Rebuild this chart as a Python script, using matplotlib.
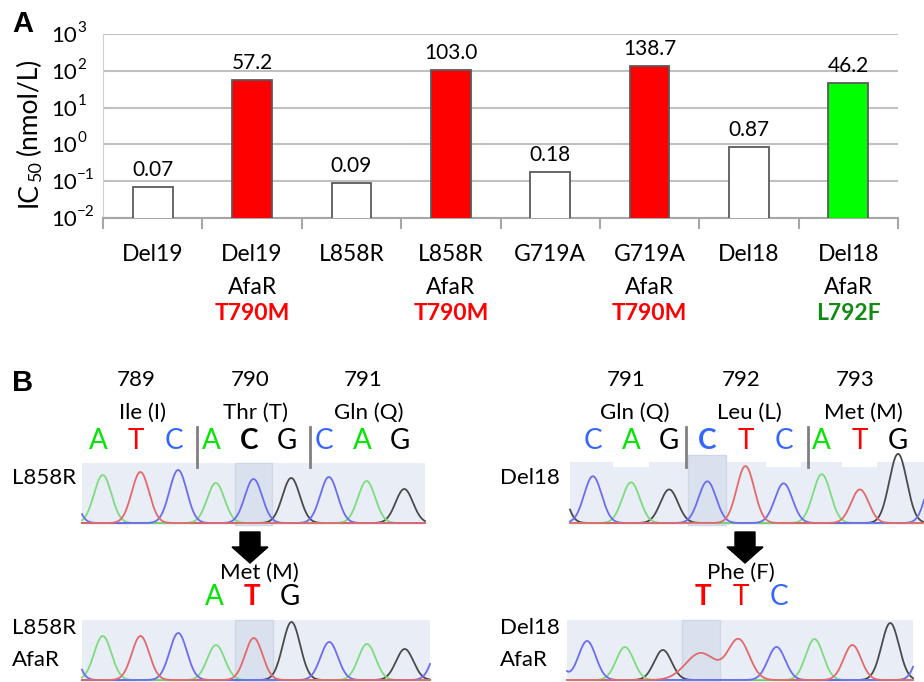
import numpy as np
import matplotlib
matplotlib.use("Agg")
import matplotlib.pyplot as plt
from matplotlib import transforms
from matplotlib.patches import Polygon
from matplotlib.ticker import NullLocator

plt.rcParams["font.family"] = ["Lato", "DejaVu Sans"]

# ---- panel A data
cell_lines = ["Del19", "Del19", "L858R", "L858R", "G719A", "G719A", "Del18", "Del18"]
resistant = ["", "AfaR", "", "AfaR", "", "AfaR", "", "AfaR"]
mutations = ["", "T790M", "", "T790M", "", "T790M", "", "L792F"]
ic50 = [0.07, 57.2, 0.09, 103.0, 0.18, 138.7, 0.87, 46.2]
ic50_labels = ["0.07", "57.2", "0.09", "103.0", "0.18", "138.7", "0.87", "46.2"]
bar_colors = ["white", "#ff0000", "white", "#ff0000", "white", "#ff0000", "white", "#00ff00"]
mutation_colors = ["black", "#ff0000", "black", "#ff0000", "black", "#ff0000", "black", "#138a13"]
decades = [-2, -1, 0, 1, 2, 3]

# ---- panel B data (trace lists start one base before the labelled codons)
codons_left = ["789", "790", "791"]
aa_left = ["Ile (I)", "Thr (T)", "Gln (Q)"]
seq_l858r = "ATCACGCAG"
trace_l858r = "CATCACGCAG"
heights_l858r = [60, 48, 51, 53, 40, 44, 45, 46, 42, 34]
aa_l858r_afar = "Met (M)"
codon_l858r_afar = "ATG"
trace_l858r_afar = "CATCATGCAGC"
heights_l858r_afar = [70, 44, 44, 47, 35, 42, 58, 38, 36, 31, 45]

codons_right = ["791", "792", "793"]
aa_right = ["Gln (Q)", "Leu (L)", "Met (M)"]
seq_del18 = "CAGCTCATG"
trace_del18 = "GCAGCTCATGC"
heights_del18 = [60, 46, 40, 33, 41, 56, 39, 48, 33, 68, 60]
aa_del18_afar = "Phe (F)"
codon_del18_afar = "TTC"
trace_del18_afar = "CCAGTTCATGC"
heights_del18_afar = [50, 39, 33, 30, 27, 40, 33, 41, 35, 57, 60]
widths_del18_afar = [0.23, 0.23, 0.23, 0.23, 0.4, 0.28, 0.23, 0.23, 0.23, 0.23, 0.23]

W, H = 924, 682
fig = plt.figure(figsize=(W / 100, H / 100), dpi=100)


def rect(x0, y0, x1, y1):
    return [x0 / W, 1 - y1 / H, (x1 - x0) / W, (y1 - y0) / H]


def fy(y):
    return 1 - y / H


# ================= panel A
ax = fig.add_axes(rect(103, 34, 898, 218))
x = np.arange(len(ic50))
bars = ax.bar(x, ic50, width=0.4, color=bar_colors, edgecolor="#5a5a5a",
              linewidth=1.3, zorder=3)
ax.set_yscale("log")
ax.set_ylim(1e-2, 1e3)
ax.set_xlim(-0.5, len(ic50) - 0.5)
ax.yaxis.set_minor_locator(NullLocator())
ax.set_yticks([10.0 ** k for k in decades])
ax.set_yticklabels([])
ax.grid(axis="y", color="#c0c0c0", lw=1.5, zorder=0)
ax.bar_label(bars, labels=ic50_labels, padding=5, fontsize=15)
ax.set_xticks(x)
ax.set_xticklabels([])
ax.set_xticks(np.arange(-0.5, len(ic50), 1), minor=True)
ax.tick_params(axis="x", which="major", length=0)
ax.tick_params(axis="x", which="minor", length=8, width=1.5, color="#a6a6a6")
ax.tick_params(axis="y", length=0)
for s in ["top", "right"]:
    ax.spines[s].set_visible(False)
ax.spines["left"].set_color("#d0d0d0")
ax.spines["bottom"].set_color("#a6a6a6")
ax.spines["bottom"].set_linewidth(1.5)

# y tick labels written as 10 with a raised exponent
for k in decades:
    ax.annotate("10", xy=(0, 10.0 ** k), xycoords=("axes fraction", "data"),
                xytext=(-18.5, -1.5), textcoords="offset points", ha="right",
                va="center", fontsize=16, annotation_clip=False)
    ax.annotate(str(k).replace("-", "\u2212"), xy=(0, 10.0 ** k),
                xycoords=("axes fraction", "data"), xytext=(-18.5, 4.5),
                textcoords="offset points", ha="left", va="center",
                fontsize=11, annotation_clip=False)

for i in range(len(ic50)):
    ax.annotate(cell_lines[i], xy=(i, 0), xycoords=("data", "axes fraction"),
                xytext=(0, -26.5), textcoords="offset points", ha="center",
                va="center", fontsize=16.5)
    if resistant[i]:
        ax.annotate(resistant[i], xy=(i, 0), xycoords=("data", "axes fraction"),
                    xytext=(0, -50), textcoords="offset points", ha="center",
                    va="center", fontsize=16.5)
    if mutations[i]:
        ax.annotate(mutations[i], xy=(i, 0), xycoords=("data", "axes fraction"),
                    xytext=(0, -68.5), textcoords="offset points", ha="center",
                    va="center", fontsize=16.5, fontweight="bold",
                    color=mutation_colors[i])

# y axis title: IC + subscript 50 + (nmol/L), rotated
t_ic = fig.text(29 / W, fy(207), "IC", rotation=90, ha="center", va="bottom",
                fontsize=19)
t_sub = ax.annotate("50", xy=(1, 1), xycoords=t_ic, xytext=(2, 0.5),
                    textcoords="offset points", rotation=90, ha="right",
                    va="bottom", fontsize=13, annotation_clip=False)
ax.annotate("(nmol/L)", xy=(0.5, 1), xycoords=(t_ic, t_sub), xytext=(0, 4),
            textcoords="offset points", rotation=90, ha="center", va="bottom",
            fontsize=19, annotation_clip=False)

fig.text(12 / W, fy(24), "A", fontsize=21, fontweight="bold",
         family="Liberation Sans", va="center")
fig.text(12 / W, fy(383), "B", fontsize=21, fontweight="bold",
         family="Liberation Sans", va="center")

# ================= panel B
BG = "#e9edf6"
HL = "#d9e0ee"
SIG = 0.23
TRACE = {"A": "#7ddc7d", "C": "#6c6cee", "G": "#4a4a4a", "T": "#e26a6a"}
LETTER = {"A": "#00e600", "C": "#3366ff", "G": "black", "T": "#ff0000"}


def chromatogram(box, trace, heights, xlim, highlight, hl_top=1.0, widths=None):
    cax = fig.add_axes(rect(*box))
    cax.set_facecolor(BG)
    cax.set_xlim(xlim)
    cax.set_ylim(-2, 60)
    for s in cax.spines.values():
        s.set_visible(False)
    cax.set_xticks([])
    cax.set_yticks([])
    cax.axvspan(highlight - 0.5, highlight + 0.5, ymin=0, ymax=hl_top,
                facecolor=HL, edgecolor="#cfd7e7", lw=1, clip_on=False, zorder=1)
    if widths is None:
        widths = [SIG] * len(trace)
    xs = np.linspace(xlim[0], xlim[1], 900)
    pos = np.arange(len(trace)) - 1
    for base in "GACT":
        y = np.zeros_like(xs)
        for p, b, h, w in zip(pos, trace, heights, widths):
            if b == base:
                y += h * np.exp(-(xs - p) ** 2 / (2 * w ** 2))
        cax.plot(xs, y, color=TRACE[base], lw=1.3, clip_on=False, zorder=3)
    return cax


def letters(cax, y, seq, start, bold, dx=0.0, bold_color=None):
    tr = transforms.blended_transform_factory(cax.transData, fig.transFigure)
    for k, b in enumerate(seq):
        is_bold = start + k == bold
        col = bold_color if (is_bold and bold_color) else LETTER[b]
        fig.text(start + k + dx, fy(y), b, transform=tr, ha="center",
                 va="center", fontsize=20, color=col,
                 fontweight="bold" if is_bold else "normal")


def header(cax, y, items, centers, dx=0.0, size=16):
    tr = transforms.blended_transform_factory(cax.transData, fig.transFigure)
    for c, s in zip(centers, items):
        fig.text(c + dx, fy(y), s, transform=tr, ha="center", va="center",
                 fontsize=size)


def separators(cax, idx, y0, y1):
    tr = transforms.blended_transform_factory(cax.transData, fig.transFigure)
    for i in idx:
        cax.plot([i, i], [fy(y0), fy(y1)], transform=tr, color="#808080",
                 lw=2, clip_on=False)


# left: L858R
ul = chromatogram((82, 463, 425, 525), trace_l858r, heights_l858r,
                  (-0.55, 8.55), 4)
header(ul, 380, codons_left, [1, 4, 7], dx=-0.1)
header(ul, 413, aa_left, [1, 4, 7], dx=0.05)
letters(ul, 441, seq_l858r, 0, 4, dx=-0.12, bold_color="black")
separators(ul, [2.5, 5.5], 427, 467)

ll = chromatogram((82, 620, 430, 682), trace_l858r_afar, heights_l858r_afar,
                  (-0.55, 8.67), 4)
header(ll, 573, [aa_l858r_afar], [4.15])
letters(ll, 597, codon_l858r_afar, 3, 4, dx=-0.05)

# right: Del18
ur = chromatogram((570, 462, 924, 525), trace_del18, heights_del18,
                  (-0.6, 8.68), 3, hl_top=1.11)
for i in [1, 5, 7]:
    ur.axvspan(i - 0.46, i + 0.46, ymin=0.92, ymax=1.0, color="white", lw=0,
               zorder=1.5)
header(ur, 380, codons_right, [1, 4, 7], dx=-0.12)
header(ur, 413, aa_right, [1, 4, 7], dx=0.1)
letters(ur, 441, seq_del18, 0, 3)
separators(ur, [2.45, 5.65], 427, 467)

lr = chromatogram((567, 620, 913, 682), trace_del18_afar, heights_del18_afar,
                  (-0.53, 8.6), 3, widths=widths_del18_afar)
header(lr, 573, [aa_del18_afar], [4.05])
letters(lr, 597, codon_del18_afar, 3, 3, dx=0.05)

for y, s in [(478, "L858R"), (628, "L858R"), (660, "AfaR")]:
    fig.text(12 / W, fy(y), s, ha="left", va="center", fontsize=16)
for y, s in [(478, "Del18"), (628, "Del18"), (660, "AfaR")]:
    fig.text(500 / W, fy(y), s, ha="left", va="center", fontsize=16)

# block arrows between the traces
ov = fig.add_axes([0, 0, 1, 1], zorder=10)
ov.set_xlim(0, W)
ov.set_ylim(H, 0)
ov.axis("off")
ov.patch.set_visible(False)
for cx in [250, 745]:
    ov.add_patch(Polygon([(cx - 10, 532), (cx + 10, 532), (cx + 10, 547),
                          (cx + 18, 547), (cx, 563), (cx - 18, 547),
                          (cx - 10, 547)], closed=True, color="black"))

fig.savefig("out.png", dpi=100)
